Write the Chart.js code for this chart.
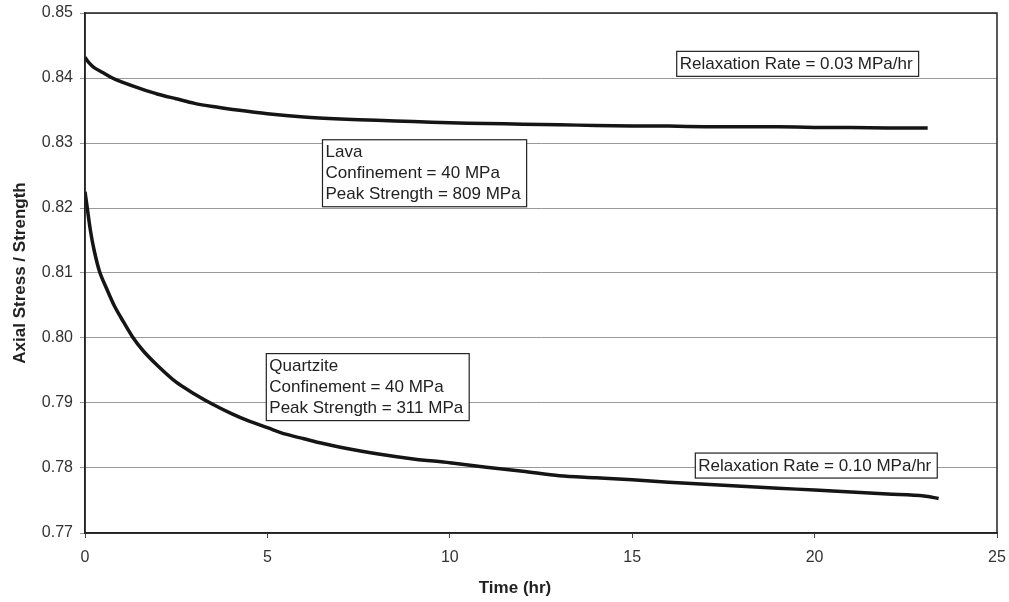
<!DOCTYPE html>
<html>
<head>
<meta charset="utf-8">
<script src="https://cdn.jsdelivr.net/npm/chart.js@4"></script>
<style>
  html, body { margin: 0; padding: 0; background: #fff; }
  #wrap { width: 1009px; height: 602px; }
</style>
</head>
<body>
<div id="wrap"><canvas id="chart-area" width="1009" height="602"></canvas></div>
<script>
// Lava, confinement 40 MPa
var lavaTime = [0, 0.1, 0.25, 0.5, 0.75, 1, 1.5, 2, 2.5, 3, 3.5, 4, 5, 6, 7, 8, 9, 10, 11, 12, 13, 14, 15, 16, 17, 18, 19, 20, 21, 22, 23.1];
var lavaStress = [0.8432, 0.8424, 0.8416, 0.8408, 0.8400, 0.8394, 0.8384, 0.8375, 0.8368, 0.8361, 0.8356, 0.8352, 0.8345, 0.8340, 0.8337, 0.8335, 0.8333, 0.8331, 0.8330, 0.8329, 0.8328, 0.8327, 0.8326, 0.8326, 0.8325, 0.8325, 0.8325, 0.8324, 0.8324, 0.8323, 0.8323];

// Quartzite, confinement 40 MPa
var quartzTime = [0, 0.05, 0.15, 0.25, 0.4, 0.6, 0.8, 1.0, 1.3, 1.6, 2.0, 2.5, 3.0, 3.5, 4.0, 4.5, 5, 5.5, 6, 6.5, 7, 8, 9, 10, 11, 12, 13, 14, 15, 16, 17, 18, 19, 20, 21, 22, 23, 23.4];
var quartzStress = [0.8225, 0.8205, 0.8165, 0.8135, 0.8102, 0.8075, 0.8050, 0.8030, 0.8002, 0.7980, 0.7957, 0.7932, 0.7914, 0.7898, 0.7884, 0.7872, 0.7862, 0.7852, 0.7845, 0.7838, 0.7832, 0.7822, 0.7814, 0.7808, 0.7801, 0.7795, 0.7788, 0.7785, 0.7782, 0.7778, 0.7775, 0.7772, 0.7769, 0.7766, 0.7763, 0.7760, 0.7757, 0.7753];

var xTicks = [0, 5, 10, 15, 20, 25];
var yTicks = [0.77, 0.78, 0.79, 0.80, 0.81, 0.82, 0.83, 0.84, 0.85];

// text boxes: anchor (top-left) in data units, lines of text
var notes = [
    { x: 16.22, y: 0.8441, lines: ["Relaxation Rate = 0.03 MPa/hr"] },
    { x: 6.51, y: 0.8305, lines: ["Lava", "Confinement = 40 MPa", "Peak Strength = 809 MPa"] },
    { x: 4.97, y: 0.7976, lines: ["Quartzite", "Confinement = 40 MPa", "Peak Strength = 311 MPa"] },
    { x: 16.73, y: 0.7823, lines: ["Relaxation Rate = 0.10 MPa/hr"] }
];

function pairs(xs, ys) {
    var out = [];
    for (var i = 0; i < xs.length; i++) {
        out.push({ x: xs[i], y: ys[i] });
    }
    return out;
}

var font = "'Liberation Sans', Arial, sans-serif";

var decorations = {
    id: 'decorations',
    afterDraw: function (chart) {
        var ctx = chart.ctx;
        var a = chart.chartArea;
        var xs = chart.scales.x, ys = chart.scales.y;
        ctx.save();
        // frame
        ctx.strokeStyle = '#222';
        ctx.lineWidth = 1.5;
        ctx.strokeRect(a.left, a.top, a.right - a.left, a.bottom - a.top);

        // notes
        ctx.font = '17px ' + font;
        ctx.textBaseline = 'middle';
        ctx.textAlign = 'left';
        notes.forEach(function (n) {
            var px = xs.getPixelForValue(n.x);
            var py = ys.getPixelForValue(n.y);
            var w = 0;
            n.lines.forEach(function (l) { w = Math.max(w, ctx.measureText(l).width); });
            var lh = 21;
            var h = n.lines.length * lh + 4;
            ctx.fillStyle = '#fff';
            ctx.fillRect(px, py, w + 9, h);
            ctx.strokeStyle = '#222';
            ctx.lineWidth = 1.2;
            ctx.strokeRect(px, py, w + 9, h);
            ctx.fillStyle = '#222';
            n.lines.forEach(function (l, i) {
                ctx.fillText(l, px + 3, py + 2.5 + lh / 2 + i * lh);
            });
        });

        // axis titles
        ctx.fillStyle = '#222';
        ctx.font = 'bold 17px ' + font;
        ctx.textAlign = 'center';
        ctx.fillText('Time (hr)', 515, 588);
        ctx.translate(20, (a.top + a.bottom) / 2);
        ctx.rotate(-Math.PI / 2);
        ctx.fillText('Axial Stress / Strength', 0, 0);
        ctx.restore();
    }
};

var config = {
    type: 'line',
    data: {
        datasets: [{
            label: 'Lava',
            data: pairs(lavaTime, lavaStress),
            borderColor: '#151515',
            borderWidth: 3.5,
            pointRadius: 0,
            tension: 0.3,
            fill: false
        }, {
            label: 'Quartzite',
            data: pairs(quartzTime, quartzStress),
            borderColor: '#151515',
            borderWidth: 3.5,
            pointRadius: 0,
            tension: 0.3,
            fill: false
        }]
    },
    options: {
        responsive: false,
        animation: false,
        layout: { padding: { left: 10, right: 12, top: 13, bottom: 0 } },
        plugins: {
            legend: { display: false },
            tooltip: { enabled: false }
        },
        scales: {
            x: {
                type: 'linear',
                min: 0,
                max: 25,
                afterBuildTicks: function (s) {
                    s.ticks = xTicks.map(function (v) { return { value: v }; });
                },
                afterFit: function (s) {
                    s.height = 69;
                    s.paddingLeft = 0;
                    s.paddingRight = 0;
                },
                grid: { drawOnChartArea: false, tickLength: 5, color: '#444' },
                border: { color: '#222', width: 1.5 },
                ticks: { font: { size: 16, family: font }, color: '#333', padding: 10, maxRotation: 0 }
            },
            y: {
                min: 0.77,
                max: 0.85,
                afterBuildTicks: function (s) {
                    s.ticks = yTicks.map(function (v) { return { value: v }; });
                },
                afterFit: function (s) {
                    s.width = 75;
                    s.paddingTop = 0;
                    s.paddingBottom = 0;
                },
                grid: { color: '#999', lineWidth: 1, tickLength: 5 },
                border: { color: '#222', width: 1.5 },
                ticks: {
                    font: { size: 16, family: font },
                    color: '#333',
                    padding: 7,
                    callback: function (v) { return v.toFixed(2); }
                }
            }
        }
    },
    plugins: [decorations]
};

var ctx = document.getElementById("chart-area").getContext("2d");
window.myLine = new Chart(ctx, config);
</script>
</body>
</html>
